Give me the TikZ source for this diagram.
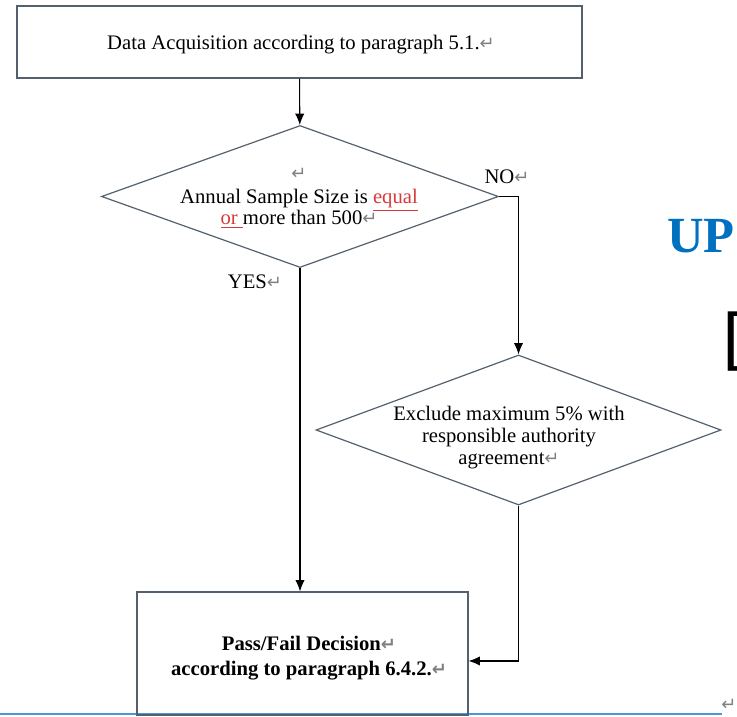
\documentclass[tikz,border=0pt]{standalone}
\usepackage{fontspec}
\setmainfont{Liberation Serif}
\newfontfamily\symfont{DejaVu Sans}
\usepackage{tikz}
\usetikzlibrary{arrows,arrows.meta,shapes.geometric}
\definecolor{boxline}{RGB}{84,96,110}
\definecolor{markred}{RGB}{214,58,58}
\definecolor{ruleblue}{RGB}{75,150,220}
\definecolor{headblue}{RGB}{0,112,192}
\newcommand{\retmark}{{\color{gray}\symfont\fontsize{13.5}{13.5}\selectfont ↵}}

\begin{document}
\begin{tikzpicture}[x=0.75pt,y=-0.75pt,>={Latex[length=8.5pt,width=7pt]}]
\tikzset{every node/.style={font=\fontsize{15.5}{18}\selectfont},
  procbox/.style={draw=boxline,line width=0.9pt,align=center},
  decision/.style={draw=boxline,line width=0.9pt,diamond,inner sep=0pt},
  flow/.style={line width=0.8pt}}
\useasboundingbox (0,0) rectangle (737,716);
\coordinate (rulel) at (0,713.5); \coordinate (ruler) at (722,713.5);
\draw[ruleblue,line width=1.5pt] (rulel) -- (ruler);
\node (rulemark) at (729,705) {\retmark};
% flow chart
\node[procbox,minimum width=423.75pt,minimum height=54pt] (acq) at (299.5,42) {};
\node (acqtxt) at (301,45) {Data Acquisition according to paragraph 5.1.\retmark};
\node[decision,minimum width=297.75pt,minimum height=106.5pt] (size) at (300,196.5) {};
\node[align=center] (sizetxt) at (299,198)
  {\retmark\\Annual Sample Size is \textcolor{markred}{\underline{equal}}\\[-2pt]\textcolor{markred}{\underline{or }}more than 500\retmark};
\node[decision,minimum width=303.75pt,minimum height=112.5pt] (excl) at (518.5,430) {};
\node[align=center,font=\fontsize{15.5}{16.5}\selectfont] (excltxt) at (509,438)
  {Exclude maximum 5\% with\\responsible authority\\agreement\retmark};
\node[procbox,minimum width=248.25pt,minimum height=92.25pt] (pf) at (302.5,653.5) {};
\node[align=center,font=\fontsize{15.5}{19}\selectfont\bfseries] (pftxt) at (309,658)
  {Pass/Fail Decision\retmark\\according to paragraph 6.4.2.\retmark};
\node (no) at (507,177) {NO\retmark};
\node (yes) at (255,282) {YES\retmark};
\draw[flow,->] (acq) -- (size);
\draw[flow,->] (size.east) -| (excl.north);
\draw[flow,->] (size.south) -- (size.south |- pf.north);
\draw[flow,->] (excl.south) |- ([yshift=-5.6pt]pf.east);
% cut off page text
\node[anchor=west,inner sep=0pt,text=headblue,font=\fontsize{38}{38}\selectfont\bfseries] (up) at (667,236) {UP};
\node[anchor=north west,inner sep=0pt,font=\symfont\fontsize{50}{50}\selectfont] (brk) at (722,312) {[};
\end{tikzpicture}
\end{document}
